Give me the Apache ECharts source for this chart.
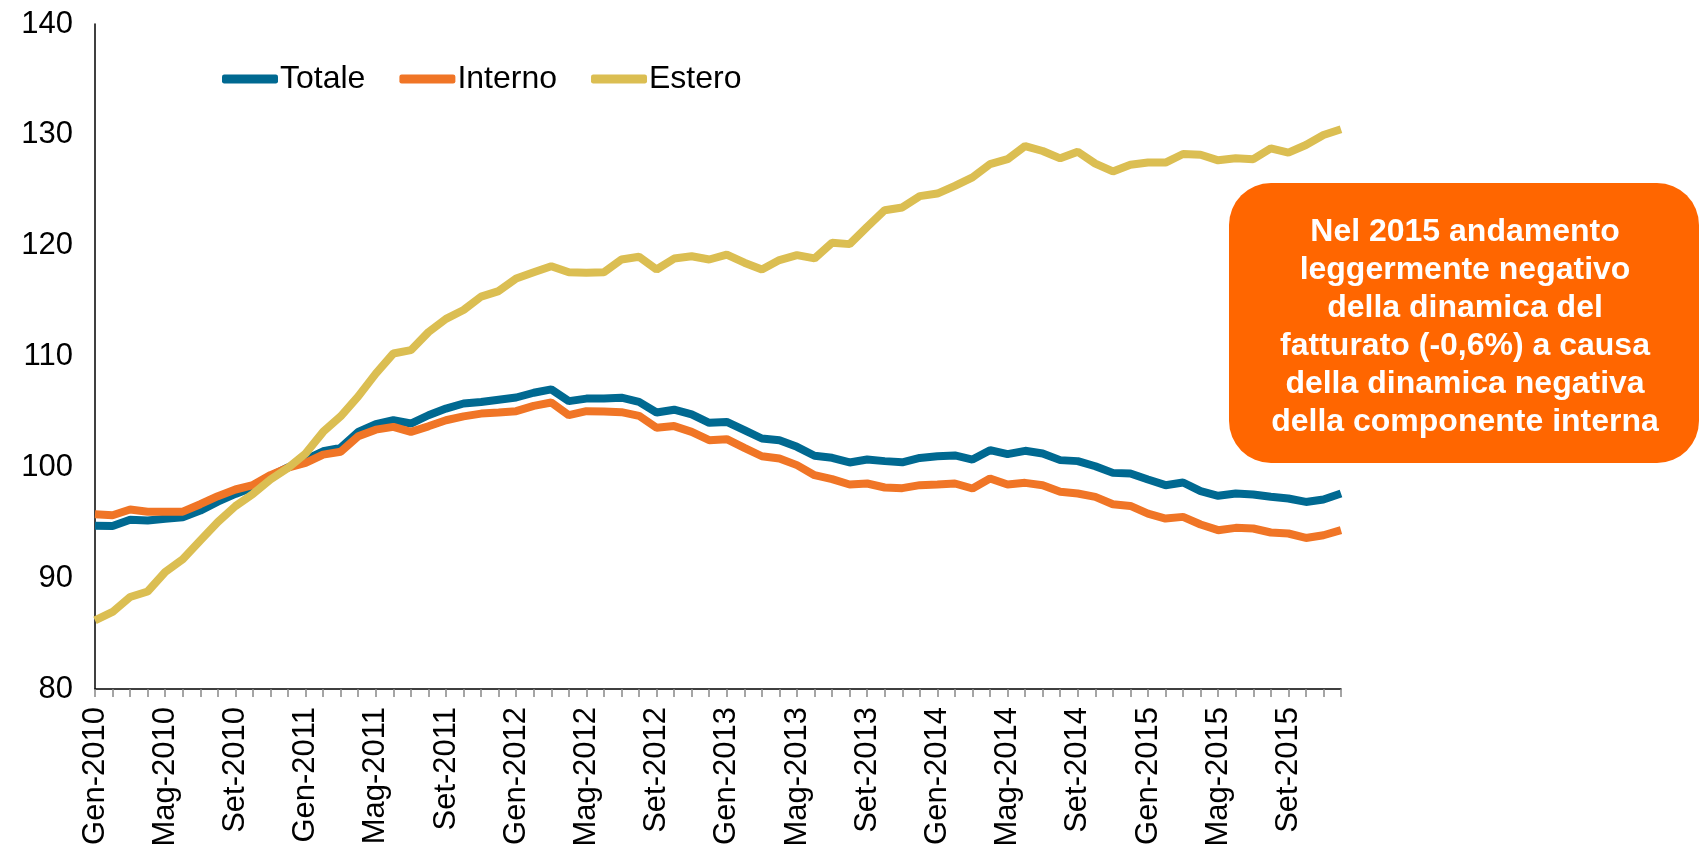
<!DOCTYPE html>
<html>
<head>
<meta charset="utf-8">
<script src="https://cdn.jsdelivr.net/npm/echarts@6/dist/echarts.min.js"></script>
<style>
html,body{margin:0;padding:0;background:#fff;}
#chart{width:1700px;height:853px;}
</style>
</head>
<body>
<div id="chart"></div>
<script>
const monthNames = ['Gen','Feb','Mar','Apr','Mag','Giu','Lug','Ago','Set','Ott','Nov','Dic'];
const years = [2010, 2011, 2012, 2013, 2014, 2015];
const categories = [];
years.forEach(y => monthNames.forEach(m => categories.push(m + '-' + y)));

const seriesNames = ['Totale', 'Interno', 'Estero'];

const totale = [
  94.74, 94.7, 95.28, 95.2, 95.37, 95.5, 96.1, 96.9, 97.6, 98.2, 99.2, 100.0,
  100.7, 101.45, 101.76, 103.2, 103.9, 104.25, 103.95, 104.7, 105.3, 105.76, 105.9, 106.1,
  106.3, 106.73, 107.03, 105.97, 106.2, 106.2, 106.28, 105.9, 104.95, 105.2, 104.77, 104.02,
  104.1, 103.36, 102.6, 102.45, 101.85, 101.04, 100.86, 100.44, 100.71, 100.56, 100.45, 100.85,
  101.0, 101.07, 100.7, 101.55, 101.19, 101.49, 101.25, 100.65, 100.56, 100.1, 99.5, 99.44,
  98.9, 98.39, 98.63, 97.85, 97.43, 97.64, 97.55, 97.34, 97.19, 96.88, 97.1, 97.64
];
const interno = [
  95.77, 95.68, 96.19, 96.0, 96.0, 96.0, 96.67, 97.4, 98.0, 98.4, 99.3, 99.98,
  100.4, 101.15, 101.4, 102.8, 103.4, 103.65, 103.2, 103.7, 104.25, 104.6, 104.85, 104.95,
  105.07, 105.55, 105.85, 104.71, 105.07, 105.04, 104.98, 104.65, 103.57, 103.72, 103.2, 102.45,
  102.54, 101.76, 101.0, 100.8, 100.2, 99.29, 98.93, 98.45, 98.54, 98.18, 98.12, 98.39,
  98.45, 98.54, 98.09, 98.99, 98.45, 98.6, 98.39, 97.79, 97.64, 97.34, 96.67, 96.52,
  95.83, 95.38, 95.53, 94.84, 94.33, 94.54, 94.48, 94.12, 94.03, 93.63, 93.87, 94.33
];
const estero = [
  86.2, 86.95, 88.3, 88.8, 90.56, 91.7, 93.4, 95.07, 96.5, 97.6, 98.9, 99.95,
  101.25, 103.2, 104.6, 106.4, 108.46, 110.27, 110.57, 112.2, 113.4, 114.2, 115.4, 115.9,
  117.04, 117.6, 118.15, 117.6, 117.55, 117.6, 118.75, 119.0, 117.85, 118.84, 119.05, 118.75,
  119.2, 118.46, 117.85, 118.7, 119.15, 118.85, 120.26, 120.14, 121.7, 123.2, 123.45, 124.47,
  124.7, 125.4, 126.16, 127.36, 127.8, 128.99, 128.54, 127.88, 128.48, 127.4, 126.7, 127.3,
  127.5, 127.5, 128.27, 128.2, 127.7, 127.88, 127.8, 128.78, 128.4, 129.08, 129.98, 130.5
];

const annotationLines = [
  'Nel 2015 andamento',
  'leggermente negativo',
  'della dinamica del',
  'fatturato (-0,6%) a causa',
  'della dinamica negativa',
  'della componente interna'
];

const colors = ['#006991', '#F07526', '#DBBE52'];
const FONT = 'Liberation Sans, Arial, sans-serif';

const chart = echarts.init(document.getElementById('chart'), null, {renderer: 'canvas'});
const dataSets = [totale, interno, estero];

chart.setOption({
  animation: false,
  backgroundColor: '#ffffff',
  color: colors,
  grid: {left: 95, right: 359, top: 24, bottom: 164, containLabel: false},
  legend: {
    data: seriesNames,
    left: 217,
    top: 58,
    icon: 'roundRect',
    itemWidth: 56,
    itemHeight: 9,
    itemGap: 34,
    textStyle: {fontFamily: FONT, fontSize: 32, color: '#000', padding: [0, 0, 0, -3]}
  },
  xAxis: {
    type: 'category',
    data: categories,
    boundaryGap: false,
    axisLine: {lineStyle: {color: '#000', width: 1.5}},
    axisTick: {show: true, interval: 0, length: 8, lineStyle: {color: '#888', width: 1.5}},
    axisLabel: {
      interval: 3, rotate: 90, margin: 18,
      fontFamily: FONT, fontSize: 31, color: '#000'
    },
    splitLine: {show: false}
  },
  yAxis: {
    type: 'value',
    min: 80, max: 140, interval: 10,
    axisLine: {show: true, lineStyle: {color: '#000', width: 1.5}},
    axisTick: {show: false},
    axisLabel: {margin: 22, fontFamily: FONT, fontSize: 31, color: '#000'},
    splitLine: {show: false}
  },
  series: seriesNames.map((n, i) => ({
    name: n,
    type: 'line',
    data: dataSets[i],
    showSymbol: false,
    symbol: 'none',
    lineStyle: {width: 8, color: colors[i]},
    itemStyle: {color: colors[i]}
  })),
  graphic: [{
    type: 'group',
    left: 1229,
    top: 183,
    children: [{
      type: 'rect',
      shape: {x: 0, y: 0, width: 470, height: 280, r: 42},
      style: {fill: '#FF6600'}
    }, {
      type: 'text',
      x: 236,
      y: 144,
      style: {
        text: annotationLines.join('\n'),
        fill: '#fff',
        font: 'bold 32px ' + FONT,
        lineHeight: 38,
        align: 'center',
        verticalAlign: 'middle'
      }
    }]
  }]
});
</script>
</body>
</html>
